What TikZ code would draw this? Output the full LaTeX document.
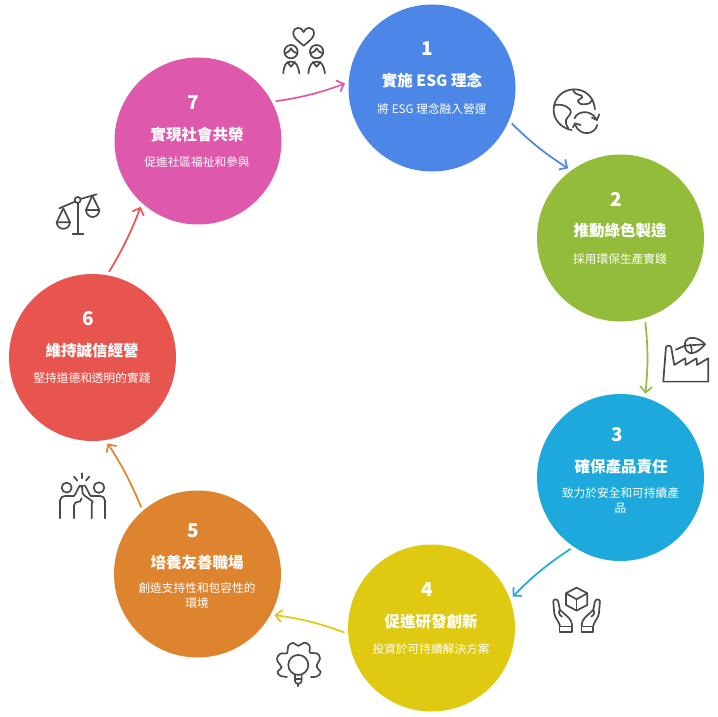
\documentclass[tikz,border=0pt]{standalone}
\usepackage{fontspec}
\setmainfont{Noto Sans CJK TC}
\usetikzlibrary{arrows.meta,calc}
\definecolor{cA}{HTML}{4C86E6}
\definecolor{cB}{HTML}{93BC3A}
\definecolor{cC}{HTML}{1DA9DC}
\definecolor{cD}{HTML}{E0C911}
\definecolor{cE}{HTML}{DE842F}
\definecolor{cF}{HTML}{E8554F}
\definecolor{cG}{HTML}{DE58AC}
\definecolor{ink}{HTML}{4A4A4A}
\tikzset{
  disc/.style={circle,fill=#1,draw=none,minimum size=167pt,inner sep=0pt,outer sep=0pt},
  numtxt/.style={text=white,font=\fontsize{19}{20}\selectfont\bfseries,inner sep=0pt},
  titletxt/.style={text=white,font=\fontsize{15.5}{17}\selectfont\bfseries,inner sep=0pt},
  subtxt/.style={text=white,font=\fontsize{11.7}{15}\selectfont,inner sep=0pt,align=center},
  link/.style={draw=#1,line width=1.7pt,shorten <=4pt,shorten >=4pt,-{Straight Barb[length=6pt,width=12pt,line width=1.7pt]}},
  icon/.style={draw=ink,line width=1.7pt,line cap=round,line join=round,fill=none},
  zoomed/.style={x=0.3333pt,y=-0.3333pt,shift={#1}}
}
\begin{document}
\begin{tikzpicture}[x=1pt,y=-1pt]
\useasboundingbox (0,0) rectangle (718,717);
\fill[white] (0,0) rectangle (718,717);

\node[disc=cA] (c1) at (432,88) {};
\node[disc=cB] (c2) at (620.5,238) {};
\node[disc=cC] (c3) at (620.5,477.5) {};
\node[disc=cD] (c4) at (431.5,628) {};
\node[disc=cE] (c5) at (197.5,574) {};
\node[disc=cF] (c6) at (92.5,357.5) {};
\node[disc=cG] (c7) at (198,141) {};

\node[numtxt]  (n1) at (427,49) {1};
\node[titletxt](t1) at (432,80.5) {實施 ESG 理念};
\node[subtxt]  (s1) at (432,108.5) {將 ESG 理念融入營運};
\node[numtxt]  (n2) at (616,199) {2};
\node[titletxt](t2) at (620,230.5) {推動綠色製造};
\node[subtxt]  (s2) at (620,259.5) {採用環保生產實踐};
\node[numtxt]  (n3) at (617,435) {3};
\node[titletxt](t3) at (621,466.5) {確保產品責任};
\node[subtxt]  (s3) at (620.5,500) {致力於安全和可持續產\\品};
\node[numtxt]  (n4) at (427,590) {4};
\node[titletxt](t4) at (431,621.5) {促進研發創新};
\node[subtxt]  (s4) at (431,649.5) {投資於可持續解決方案};
\node[numtxt]  (n5) at (193,531) {5};
\node[titletxt](t5) at (197,562.5) {培養友善職場};
\node[subtxt]  (s5) at (197,596) {創造支持性和包容性的\\環境};
\node[numtxt]  (n6) at (88,319) {6};
\node[titletxt](t6) at (92,350.5) {維持誠信經營};
\node[subtxt]  (s6) at (92,378.5) {堅持道德和透明的實踐};
\node[numtxt]  (n7) at (193,103) {7};
\node[titletxt](t7) at (197,134.5) {實現社會共榮};
\node[subtxt]  (s7) at (197,162.5) {促進社區福祉和參與};

\draw[link=cA] (c1.-23) to[bend right=6] (c2.126);
\draw[link=cB] (c2.-73.6) to[bend left=6] (c3.73.6);
\draw[link=cC] (c3.-124) to[bend right=6] (c4.20);
\draw[link=cD] (c4.184.5) to[bend right=6] (c5.-29);
\draw[link=cE] (c5.131.5) to[bend right=5] (c6.-81.5);
\draw[link=cF] (c6.80) to[bend right=5] (c7.228.6);
\draw[link=cG] (c7.28) to[bend left=-6] (c1.176.8);

% couple with heart
\begin{scope}[zoomed={(780,30)}]
\draw[icon] (131,107) .. controls (110,90) and (100,82) .. (100,70) .. controls (100,50) and (125,48) .. (131,66) .. controls (137,48) and (162,50) .. (162,70) .. controls (162,82) and (152,90) .. (131,107) -- cycle;
\draw[icon] (93,125) circle[radius=20];
\draw[icon] (170,125) circle[radius=20];
\draw[icon] (75,130) .. controls (85,128) and (90,122) .. (93,115) .. controls (96,122) and (102,128) .. (111,130);
\draw[icon] (152,130) .. controls (161,128) and (167,122) .. (170,115) .. controls (173,122) and (179,128) .. (188,130);
\draw[icon] (70,190) .. controls (72,165) and (78,155) .. (93,155) .. controls (108,155) and (114,165) .. (118,190);
\draw[icon] (145,190) .. controls (148,165) and (155,155) .. (170,155) .. controls (185,155) and (191,165) .. (195,190);
\draw[icon] (82,156) -- (93,170) -- (105,156);
\draw[icon] (159,156) -- (170,170) -- (182,156);
\end{scope}

% globe with recycle arrows
\begin{scope}[zoomed={(1530,240)}]
\draw[icon] (255,88) .. controls (252,50) and (225,28) .. (193,28) .. controls (158,28) and (131,55) .. (131,90) .. controls (131,120) and (155,145) .. (185,150);
\draw[icon] (190,32) .. controls (195,48) and (220,42) .. (217,52) .. controls (213,60) and (200,58) .. (205,66) .. controls (212,78) and (230,72) .. (238,70) .. controls (245,68) and (243,60) .. (248,58);
\draw[icon] (135,75) .. controls (150,72) and (168,75) .. (180,88) .. controls (190,100) and (172,110) .. (168,120) .. controls (165,128) and (170,135) .. (175,145);
\draw[icon] (194,115) .. controls (200,95) and (240,85) .. (260,118);
\draw[icon] (246,113) -- (261,120) -- (268,103);
\draw[icon] (262,135) .. controls (255,165) and (210,170) .. (196,135);
\draw[icon] (189,142) -- (195,130) -- (212,135);
\end{scope}

% factory with leaf
\begin{scope}[zoomed={(1890,945)}]
\draw[icon] (100,200) -- (235,200) -- (235,130) -- (201,150) -- (200,130) -- (167,150) -- (166,130) -- (133,150) -- (124,98) .. controls (122,90) and (110,90) .. (108,98) -- (100,200);
\draw[icon] (138,104) -- (165,92) -- (225,88);
\draw[icon] (225,88) .. controls (210,68) and (170,58) .. (165,85) .. controls (162,105) and (175,118) .. (190,114) .. controls (205,110) and (215,100) .. (225,88) -- cycle;
\draw[icon] (180,88) .. controls (185,95) and (187,105) .. (185,114);
\end{scope}

% box in hands
\begin{scope}[zoomed={(1530,1650)}]
\draw[icon] (200,113) -- (232,130) -- (232,165) -- (200,182) -- (168,165) -- (168,130) -- cycle;
\draw[icon] (168,130) -- (200,148) -- (232,130);
\draw[icon] (200,148) -- (200,182);
\draw[icon] (150,228) .. controls (148,215) and (135,205) .. (133,190) -- (130,155) .. controls (130,146) and (143,146) .. (145,155) -- (150,180) -- (176,203) .. controls (182,210) and (187,218) .. (187,228);
\draw[icon] (150,180) .. controls (144,188) and (148,195) .. (156,200);
\draw[icon] (250,228) .. controls (252,215) and (265,205) .. (267,190) -- (270,155) .. controls (270,146) and (257,146) .. (255,155) -- (250,180) -- (225,203) .. controls (218,210) and (215,218) .. (215,228);
\draw[icon] (250,180) .. controls (256,188) and (252,195) .. (244,200);
\draw[icon] (149,230) rectangle (187,247);
\draw[icon] (215,230) rectangle (250,247);
\end{scope}

% gear with bulb
\begin{scope}[zoomed={(795,1830)}]
\draw[icon] plot[smooth,tension=0.7] coordinates {(66,201) (45,197) (38,185) (50,172) (38,155) (38,140) (50,130) (66,130) (70,108) (85,99) (100,108) (118,98) (134,108) (135,128) (155,130) (165,145) (155,170) (167,187) (155,200) (138,201)};
\draw[icon] (100,165) circle[radius=30];
\draw[icon] (90,196) -- (90,214) .. controls (92,224) and (108,224) .. (110,214) -- (110,196);
\draw[icon] (90,207) -- (110,207);
\draw[icon] (100,222) -- (100,229);
\end{scope}

% high five
\begin{scope}[zoomed={(150,1305)}]
\draw[icon] (50,158) circle[radius=15];
\draw[icon] (147,158) circle[radius=16];
\draw[icon] (95,115) -- (95,130);
\draw[icon] (72,125) -- (82,137);
\draw[icon] (118,125) -- (108,137);
\draw[icon] (30,250) -- (30,197) .. controls (30,188) and (38,183) .. (46,183) -- (72,183) .. controls (80,175) and (82,160) .. (90,152) .. controls (96,150) and (100,158) .. (97,165) .. controls (94,178) and (108,185) .. (112,188) -- (128,200);
\draw[icon] (72,250) -- (72,212) .. controls (72,204) and (78,200) .. (86,200) -- (90,200) -- (95,190);
\draw[icon] (165,250) -- (165,197) .. controls (165,188) and (158,183) .. (150,183) -- (122,183) .. controls (115,175) and (112,160) .. (104,152) .. controls (99,150) and (95,152) .. (95,158);
\draw[icon] (125,250) -- (125,212) .. controls (125,206) and (127,203) .. (128,200);
\end{scope}

% scales
\begin{scope}[zoomed={(150,555)}]
\draw[icon] (83,54) -- (83,148);
\draw[icon] (68,148) -- (100,148);
\draw[icon] (83,45) circle[radius=9];
\draw[icon] (28,70) -- (75,50);
\draw[icon] (92,42) -- (140,28);
\draw[icon] (40,70) -- (20,112) -- (60,112) -- cycle;
\draw[icon] (20,112) .. controls (22,138) and (58,138) .. (60,112);
\draw[icon] (127,32) -- (108,75) -- (148,75) -- cycle;
\draw[icon] (108,75) .. controls (110,103) and (146,103) .. (148,75);
\end{scope}
\end{tikzpicture}
\end{document}
